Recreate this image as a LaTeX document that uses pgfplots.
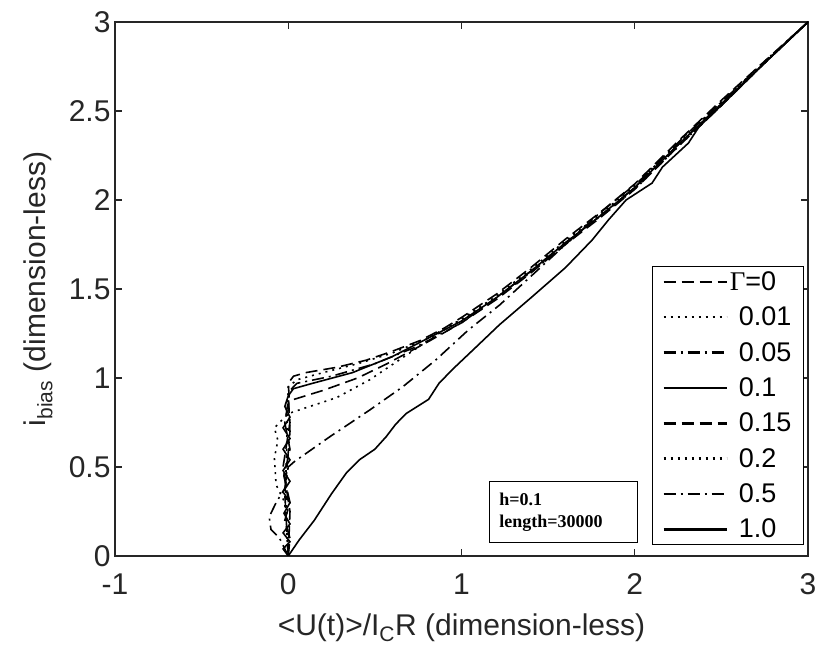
\documentclass[border=0pt]{standalone}
\usepackage{fontspec}
\setmainfont{Liberation Sans}
\newfontfamily\serif{Liberation Serif}
\usepackage{pgfplots}
\pgfplotsset{compat=1.18}
\definecolor{axgray}{HTML}{262626}
\begin{document}
\begin{tikzpicture}
\path[use as bounding box] (-115pt,-89pt) rectangle (705pt,556pt);
\begin{axis}[
  scale only axis, width=693pt, height=534pt,
  xmin=-1, xmax=3, ymin=0, ymax=3,
  xtick={-1,0,1,2,3}, ytick={0,0.5,1,1.5,2,2.5,3},
  tick align=inside, tick pos=both, major tick length=7pt,
  axis line style={draw=axgray, line width=1.2pt},
  every tick/.style={axgray, line width=1.2pt},
  /pgf/number format/assume math mode=true,
  ticklabel style={font=\fontsize{30}{34}\selectfont, text=axgray},
  xticklabel style={yshift=-14pt},
  yticklabel style={xshift=-1pt},
  label style={font=\fontsize{30}{34}\selectfont, text=axgray},
  xlabel={<U(t)>/I\textsubscript{C}R (dimension-less)},
  ylabel={i\textsubscript{bias} (dimension-less)},
  xlabel style={at={(axis description cs:0.5,-0.148)}, anchor=base},
  ylabel style={at={(axis description cs:-0.085,0.5)}, anchor=south},
  legend cell align=left,
  legend image code/.code={\draw[#1, line width=2.5pt] (0pt,0pt) -- (63pt,0pt);},
  legend style={at={(0.994,0.0206)}, anchor=south east, draw=black, line width=1pt,
    font=\fontsize{27}{31}\selectfont, inner xsep=10pt, inner ysep=3pt,
    nodes={inner sep=2pt}, row sep=11pt},
  every axis plot/.append style={line width=1.6pt, black},
]
\addplot[dash pattern=on 12pt off 6pt] coordinates {(0,0) (0.01,0.1) (-0.02,0.2) (0.01,0.3) (-0.025,0.45) (0.01,0.6) (-0.02,0.75) (0.005,0.9) (0.0,0.97) (0.03,1.01) (0.1,1.03) (0.28,1.06) (0.45,1.1) (0.6,1.15) (0.76,1.21) (0.9,1.28) (1.0,1.34) (1.2,1.47) (1.4,1.62) (1.6,1.78) (1.8,1.93) (2.0,2.09) (2.25,2.33) (2.5,2.56) (2.75,2.78) (3,3)};
\addlegendentry{{\serif Γ}=0}
\addplot[dash pattern=on 2pt off 5pt] coordinates {(0,0) (-0.015,0.4) (0,0.95) (0.05,0.99) (0.2,1.03) (0.4,1.08) (0.6,1.14) (0.8,1.22) (1.0,1.33) (1.2,1.46) (1.4,1.61) (1.6,1.77) (1.8,1.92) (2.0,2.08) (2.25,2.32) (2.5,2.55) (2.75,2.78) (3,3)};
\addlegendentry{\hspace*{9pt}0.01}
\addplot[dash pattern=on 12pt off 5pt on 2pt off 5pt] coordinates {(0,0) (-0.02,0.35) (0.01,0.7) (0,0.92) (0.05,0.97) (0.25,1.01) (0.5,1.08) (0.75,1.18) (1.0,1.31) (1.2,1.45) (1.4,1.6) (1.6,1.76) (1.8,1.91) (2.0,2.07) (2.25,2.31) (2.5,2.54) (2.75,2.77) (3,3)};
\addlegendentry{\hspace*{9pt}0.05}
\addplot[solid] coordinates {(0,0) (-0.03,0.04) (0.01,0.08) (-0.03,0.13) (0.01,0.18) (-0.025,0.24) (0.01,0.3) (-0.03,0.36) (0.01,0.42) (-0.03,0.48) (0.01,0.54) (-0.03,0.6) (0.01,0.66) (-0.03,0.72) (0.01,0.78) (-0.02,0.84) (0,0.9) (0.03,0.94) (0.14,0.97) (0.37,1.03) (0.6,1.12) (0.8,1.22) (1.0,1.32) (1.2,1.45) (1.4,1.6) (1.6,1.76) (1.8,1.91) (2.0,2.07) (2.25,2.31) (2.5,2.54) (2.75,2.77) (3,3)};
\addlegendentry{\hspace*{9pt}0.1}
\addplot[dash pattern=on 12pt off 6pt] coordinates {(0,0) (0.01,0.25) (-0.03,0.5) (0.01,0.75) (0,0.87) (0.2,0.93) (0.4,1.0) (0.57,1.08) (0.8,1.2) (1.0,1.31) (1.2,1.44) (1.4,1.59) (1.6,1.75) (1.8,1.9) (2.0,2.06) (2.25,2.3) (2.5,2.53) (2.75,2.77) (3,3)};
\addlegendentry{\hspace*{9pt}0.15}
\addplot[dash pattern=on 2pt off 5pt] coordinates {(0,0) (-0.02,0.3) (-0.07,0.4) (-0.08,0.55) (-0.06,0.65) (-0.08,0.72) (0,0.8) (0.28,0.89) (0.47,0.99) (0.7,1.14) (0.9,1.27) (1.1,1.39) (1.3,1.52) (1.5,1.67) (1.75,1.87) (2.0,2.06) (2.25,2.3) (2.5,2.53) (2.75,2.77) (3,3)};
\addlegendentry{\hspace*{9pt}0.2}
\addplot[dash pattern=on 12pt off 5pt on 2pt off 5pt] coordinates {(0,0) (-0.05,0.1) (-0.1,0.15) (-0.11,0.22) (-0.07,0.3) (-0.02,0.38) (0,0.5) (0.035,0.53) (0.24,0.67) (0.47,0.82) (0.66,0.95) (0.85,1.1) (1.04,1.27) (1.22,1.41) (1.5,1.66) (1.79,1.92) (2.03,2.11) (2.3,2.37) (2.6,2.64) (3,3)};
\addlegendentry{\hspace*{9pt}0.5}
\addplot[solid] coordinates {(0,0) (0.063,0.09) (0.15,0.2) (0.25,0.35) (0.335,0.466) (0.41,0.54) (0.5,0.6) (0.565,0.67) (0.62,0.74) (0.68,0.8) (0.81,0.88) (0.87,0.97) (0.95,1.05) (1.08,1.17) (1.22,1.3) (1.4,1.45) (1.6,1.62) (1.754,1.775) (1.85,1.89) (1.95,2.0) (2.1,2.095) (2.16,2.185) (2.31,2.32) (2.37,2.41) (2.53,2.56) (2.75,2.77) (3,3)};
\addlegendentry{\hspace*{9pt}1.0}
\node[draw=black, line width=1pt, anchor=south west, minimum width=148pt, minimum height=61pt,
  inner xsep=10pt, text width=128pt, align=left, font=\serif\bfseries\fontsize{18}{22}\selectfont]
  at (axis cs:1.158,0.073) {h=0.1\\length=30000};
\end{axis}
\end{tikzpicture}
\end{document}
